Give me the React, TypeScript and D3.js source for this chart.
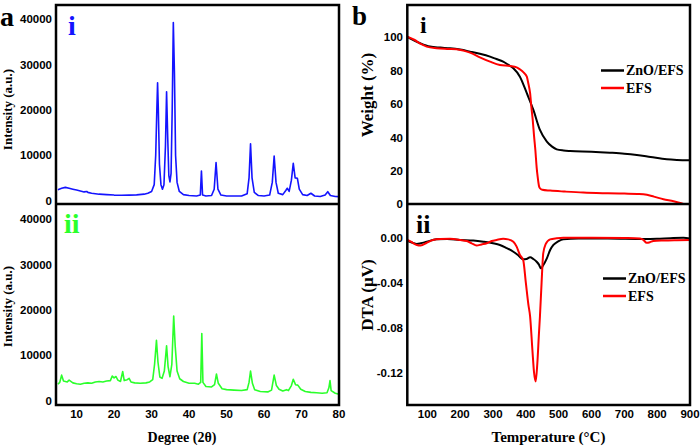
import React from "react";
import * as d3 from "d3";

// ---------- Data ----------
// XRD (panel a)
const xrdTicks = [10, 20, 30, 40, 50, 60, 70, 80];
const intensityTicks = [0, 10000, 20000, 30000, 40000];

const xrdZnoEfs: [number, number][] = [
  [5, 2400], [6, 2700], [7, 2900], [8, 2700], [9, 2500], [10, 2300], [11, 2100], [12, 1900],
  [12.7, 2000], [13, 1800], [14, 1600], [15, 1500], [16, 1400], [18, 1300], [20, 1200], [22, 1150],
  [24, 1200], [26, 1250], [28, 1400], [29, 1600], [30, 2000], [30.7, 3500], [31.1, 10000],
  [31.4, 20000], [31.6, 26000], [31.8, 20000], [32.1, 8000], [32.5, 3500], [32.9, 2500],
  [33.3, 3500], [33.7, 12000], [34.0, 24000], [34.3, 14000], [34.6, 5500], [34.9, 4100],
  [35.2, 6000], [35.5, 20000], [35.8, 39300], [36.1, 28000], [36.4, 10000], [36.8, 4000],
  [37.4, 2000], [38.5, 1300], [40, 1100], [42, 1000], [43.0, 1200], [43.3, 6500], [43.6, 1200],
  [44.5, 1000], [46, 1100], [46.7, 2500], [47.2, 8400], [47.7, 2500], [48.5, 1200], [50, 1000],
  [52, 1000], [54, 1000], [55.5, 1500], [56.0, 5000], [56.4, 12500], [56.8, 5000], [57.4, 1800],
  [58.5, 1100], [60, 1000], [61.5, 1200], [62.2, 4000], [62.7, 9800], [63.2, 4000], [63.8, 1600],
  [65, 1300], [65.8, 2200], [66.2, 2700], [66.7, 2000], [67.3, 4500], [67.8, 8200], [68.3, 5000],
  [68.9, 4900], [69.4, 2500], [70.3, 1300], [71.5, 1100], [72.5, 1600], [73.5, 1000], [75, 900],
  [76.3, 1200], [77, 1950], [77.7, 1100], [79, 900], [80, 850],
];

const xrdEfs: [number, number][] = [
  [5, 3600], [5.5, 4000], [6, 5600], [6.5, 4300], [7.5, 4100], [8, 4500], [9, 3900], [10, 3700],
  [11, 3600], [12, 3800], [13, 3900], [14, 3800], [15, 4100], [16, 4200], [17, 4100], [18, 4300],
  [19, 4400], [19.5, 5400], [20, 5000], [20.5, 5300], [21, 4500], [21.7, 4200], [22.3, 6400],
  [22.7, 4400], [23.5, 4600], [24, 4900], [24.5, 4100], [25.5, 3900], [27, 3800], [28.5, 3900],
  [29.5, 4100], [30.3, 4600], [30.8, 8000], [31.3, 13300], [31.7, 8500], [32.2, 5200], [32.8, 4900],
  [33.4, 6500], [34.0, 12100], [34.4, 7500], [34.9, 5250], [35.4, 8000], [35.9, 18650],
  [36.3, 12000], [36.8, 6500], [37.5, 4800], [38.5, 4200], [40, 3800], [41.5, 3800], [42.5, 3600],
  [43.1, 4000], [43.4, 14800], [43.7, 4000], [44.5, 3100], [46, 3000], [46.8, 3500], [47.3, 5850],
  [47.8, 3800], [48.8, 2600], [50, 2400], [52, 2300], [54, 2200], [55.5, 2400], [56.0, 4000],
  [56.4, 6500], [56.9, 3800], [57.5, 2400], [59, 2000], [61, 1900], [62.0, 2300], [62.7, 5600],
  [63.3, 3300], [64, 2500], [65, 2100], [66, 2400], [66.5, 2200], [67.3, 3300], [67.8, 4700],
  [68.4, 3500], [69, 3400], [69.8, 2500], [71, 2000], [72.5, 1800], [74, 1700], [75.5, 1600],
  [76.8, 1700], [77.3, 2800], [77.6, 4400], [77.9, 2200], [79, 1600], [80, 1400],
];

// TGA / DTA (panel b)
const tempTicks = [100, 200, 300, 400, 500, 600, 700, 800, 900];
const weightTicks = [0, 20, 40, 60, 80, 100];
const dtaTicks = [0, -0.04, -0.08, -0.12];
const dtaTickLabels = ["0.00", "-0.04", "-0.08", "-0.12"];
const seriesNames = ["ZnO/EFS", "EFS"];

const tgaZnoT = [39, 50, 78, 108, 140, 169, 200, 230, 260, 291, 310, 331, 346, 362, 382, 403, 423, 443, 464, 480, 494, 515, 535, 600, 656, 700, 738, 780, 829, 860, 900];
const tgaZnoW = [100.3, 99, 96.4, 94.4, 93.8, 93.4, 92.6, 91.4, 90.1, 88.4, 87, 85.4, 83.6, 81.4, 76.4, 66.5, 56.5, 44.5, 37.5, 34.5, 32.9, 32.2, 31.9, 31.5, 30.9, 30.3, 29.5, 28.3, 26.9, 26.5, 26.3];

const tgaEfsT = [39, 60, 80, 98, 128, 160, 189, 210, 230, 260, 291, 321, 352, 372, 382, 393, 403, 408, 413, 417, 421, 425, 429, 433, 436, 440, 443, 450, 474, 520, 575, 650, 700, 740, 758, 790, 819, 850, 880, 900];
const tgaEfsW = [100.3, 98.5, 96, 94.4, 93.4, 93, 92.8, 92, 90.8, 88, 85.4, 83.4, 82.8, 82, 80.8, 79, 76.4, 72, 66.5, 58, 50.5, 41, 32.5, 22, 16.5, 11, 9.6, 8.7, 8.2, 7.6, 7.0, 6.6, 6.4, 6.2, 6.0, 4.6, 3.0, 1.8, 0.2, -0.5];

const dtaZnoT = [39, 55, 68, 80, 98, 128, 160, 200, 240, 271, 300, 321, 340, 362, 378, 392, 402, 413, 423, 433, 440, 446, 452, 464, 474, 484, 500, 514, 560, 650, 758, 799, 840, 880, 900];
const dtaZnoV = [-0.0027, -0.0045, -0.0056, -0.005, -0.0036, -0.0015, -0.0012, -0.002, -0.0025, -0.0036, -0.005, -0.0065, -0.009, -0.0125, -0.016, -0.0193, -0.019, -0.0175, -0.019, -0.0214, -0.024, -0.0273, -0.025, -0.0184, -0.011, -0.0065, -0.003, -0.0015, -0.0008, -0.0008, -0.0012, -0.001, -0.0004, 0.0, -0.0007];

const dtaEfsT = [39, 50, 68, 80, 98, 117, 140, 169, 200, 220, 235, 250, 265, 281, 296, 311, 331, 346, 362, 372, 382, 392, 400, 408, 413, 420, 425, 430, 435, 440, 443, 448, 453, 460, 474, 494, 514, 600, 700, 748, 758, 768, 778, 788, 820, 860, 900];
const dtaEfsV = [-0.002, -0.0036, -0.0065, -0.007, -0.0045, -0.002, -0.0012, -0.001, -0.002, -0.003, -0.005, -0.007, -0.006, -0.005, -0.003, -0.002, -0.001, -0.0015, -0.0036, -0.008, -0.0154, -0.02, -0.04, -0.06, -0.07, -0.1, -0.12, -0.128, -0.112, -0.085, -0.07, -0.04, -0.014, -0.006, -0.0015, -0.0005, 0.0, 0.0, -0.0003, -0.0007, -0.002, -0.0045, -0.004, -0.003, -0.0025, -0.0022, -0.002];

// ---------- Layout ----------
const W = 700;
const H = 446;
const aL = 56, aR = 339, top = 5, mid = 204, bot = 405;
const bL = 407.3, bR = 690;

const BLUE = "#1414ff";
const GREEN = "#2bff2b";
const RED = "#ff0000";
const BLACK = "#000000";

const sans = "'Liberation Sans', Arial, sans-serif";
const serif = "'Liberation Serif', 'Times New Roman', serif";

export default function App() {
  const xA = d3.scaleLinear().domain([4.5, 80]).range([aL, aR]);
  const yA1 = d3.scaleLinear().domain([-770, 43160]).range([mid, top]);
  const yA2 = d3.scaleLinear().domain([-990, 43380]).range([bot, mid]);

  const xB = d3.scaleLinear().domain([39, 900]).range([bL, bR]);
  const yB1 = d3.scaleLinear().domain([0, 119.3]).range([204.3, top]);
  const yB2 = d3.scaleLinear().domain([-0.149, 0.03]).range([bot, mid]);

  const lineA1 = d3.line<[number, number]>().x((d) => xA(d[0])).y((d) => yA1(d[1]));
  const lineA2 = d3.line<[number, number]>().x((d) => xA(d[0])).y((d) => yA2(d[1]));

  const zip = (a: number[], b: number[]) => a.map((v, i) => [v, b[i]] as [number, number]);
  const lineB1 = d3.line<[number, number]>().x((d) => xB(d[0])).y((d) => yB1(d[1])).curve(d3.curveMonotoneX);
  const lineB2 = d3.line<[number, number]>().x((d) => xB(d[0])).y((d) => yB2(d[1])).curve(d3.curveMonotoneX);

  const tickStyle: React.CSSProperties = { fontFamily: sans, fontWeight: "bold", fontSize: 11.5 };

  return (
    <svg width={W} height={H} style={{ position: "absolute", left: 0, top: 0, background: "#fff" }}>
      <defs>
        <clipPath id="ca1"><rect x={aL} y={top} width={aR - aL} height={mid - top} /></clipPath>
        <clipPath id="ca2"><rect x={aL} y={mid} width={aR - aL} height={bot - mid} /></clipPath>
        <clipPath id="cb1"><rect x={bL} y={top} width={bR - bL} height={mid - top} /></clipPath>
        <clipPath id="cb2"><rect x={bL} y={mid} width={bR - bL} height={bot - mid} /></clipPath>
      </defs>
      <rect x={0} y={0} width={W} height={H} fill="#fff" />

      {/* ---------- Panel a ---------- */}
      <path d={lineA1(xrdZnoEfs) || ""} fill="none" stroke={BLUE} strokeWidth={1.6} clipPath="url(#ca1)" strokeLinejoin="round" />
      <path d={lineA2(xrdEfs) || ""} fill="none" stroke={GREEN} strokeWidth={1.6} clipPath="url(#ca2)" strokeLinejoin="round" />

      <rect x={aL} y={top} width={aR - aL} height={bot - top} fill="none" stroke={BLACK} strokeWidth={2.5} />
      <line x1={aL} x2={aR} y1={mid} y2={mid} stroke={BLACK} strokeWidth={2.5} />

      {intensityTicks.map((t) => (
        <text key={"a1" + t} x={52} y={yA1(t)} dy="0.36em" textAnchor="end" style={tickStyle}>{t}</text>
      ))}
      {intensityTicks.map((t) => (
        <text key={"a2" + t} x={52} y={yA2(t)} dy="0.36em" textAnchor="end" style={tickStyle}>{t}</text>
      ))}
      {xrdTicks.map((t) => (
        <text key={"ax" + t} x={xA(t)} y={418} textAnchor="middle" style={tickStyle}>{t}</text>
      ))}
      <text x={182} y={442} textAnchor="middle" style={{ fontFamily: serif, fontWeight: "bold", fontSize: 14 }}>Degree (2θ)</text>
      <text transform={`translate(12,${(top + mid) / 2 + 5}) rotate(-90)`} textAnchor="middle" style={{ fontFamily: serif, fontWeight: "bold", fontSize: 13 }}>Intensity (a.u.)</text>
      <text transform={`translate(12,${(mid + bot) / 2 + 2}) rotate(-90)`} textAnchor="middle" style={{ fontFamily: serif, fontWeight: "bold", fontSize: 13 }}>Intensity (a.u.)</text>

      <text x={0} y={26} style={{ fontFamily: serif, fontWeight: "bold", fontSize: 28 }}>a</text>
      <text x={68} y={35} fill={BLUE} style={{ fontFamily: serif, fontWeight: "bold", fontSize: 28 }}>i</text>
      <text x={64} y={233} fill={GREEN} style={{ fontFamily: serif, fontWeight: "bold", fontSize: 28 }}>ii</text>

      {/* ---------- Panel b ---------- */}
      <path d={lineB1(zip(tgaZnoT, tgaZnoW)) || ""} fill="none" stroke={BLACK} strokeWidth={2} clipPath="url(#cb1)" />
      <path d={lineB1(zip(tgaEfsT, tgaEfsW)) || ""} fill="none" stroke={RED} strokeWidth={2} clipPath="url(#cb1)" />
      <path d={lineB2(zip(dtaZnoT, dtaZnoV)) || ""} fill="none" stroke={BLACK} strokeWidth={2} clipPath="url(#cb2)" />
      <path d={lineB2(zip(dtaEfsT, dtaEfsV)) || ""} fill="none" stroke={RED} strokeWidth={2} clipPath="url(#cb2)" />

      <rect x={bL} y={top} width={bR - bL} height={bot - top} fill="none" stroke={BLACK} strokeWidth={2.5} />
      <line x1={bL} x2={bR} y1={mid} y2={mid} stroke={BLACK} strokeWidth={2.5} />

      {weightTicks.map((t) => (
        <text key={"b1" + t} x={403} y={yB1(t)} dy="0.36em" textAnchor="end" style={tickStyle}>{t}</text>
      ))}
      {dtaTicks.map((t, i) => (
        <text key={"b2" + t} x={403} y={yB2(t)} dy="0.36em" textAnchor="end" style={tickStyle}>{dtaTickLabels[i]}</text>
      ))}
      {tempTicks.map((t) => (
        <text key={"bx" + t} x={xB(t)} y={417.5} textAnchor="middle" style={tickStyle}>{t}</text>
      ))}
      <text x={548.5} y={442} textAnchor="middle" style={{ fontFamily: serif, fontWeight: "bold", fontSize: 15 }}>Temperature (°C)</text>
      <text transform={`translate(373,${95}) rotate(-90)`} textAnchor="middle" style={{ fontFamily: serif, fontWeight: "bold", fontSize: 17 }}>Weight (%)</text>
      <text transform={`translate(373,${295}) rotate(-90)`} textAnchor="middle" style={{ fontFamily: serif, fontWeight: "bold", fontSize: 17 }}>DTA (µV)</text>

      <text x={352} y={25} style={{ fontFamily: serif, fontWeight: "bold", fontSize: 27 }}>b</text>
      <text x={420} y={33} style={{ fontFamily: serif, fontWeight: "bold", fontSize: 24 }}>i</text>
      <text x={416} y={233} style={{ fontFamily: serif, fontWeight: "bold", fontSize: 26 }}>ii</text>

      {/* legends */}
      {seriesNames.map((n, i) => (
        <g key={"l1" + n}>
          <line x1={601} x2={624} y1={70.5 + i * 17.5} y2={70.5 + i * 17.5} stroke={i === 0 ? BLACK : RED} strokeWidth={2.5} />
          <text x={626} y={75 + i * 17.5} style={{ fontFamily: serif, fontWeight: "bold", fontSize: 14 }}>{n}</text>
        </g>
      ))}
      {seriesNames.map((n, i) => (
        <g key={"l2" + n}>
          <line x1={603} x2={626} y1={278.5 + i * 17.5} y2={278.5 + i * 17.5} stroke={i === 0 ? BLACK : RED} strokeWidth={2.5} />
          <text x={628} y={283 + i * 17.5} style={{ fontFamily: serif, fontWeight: "bold", fontSize: 14 }}>{n}</text>
        </g>
      ))}
    </svg>
  );
}
